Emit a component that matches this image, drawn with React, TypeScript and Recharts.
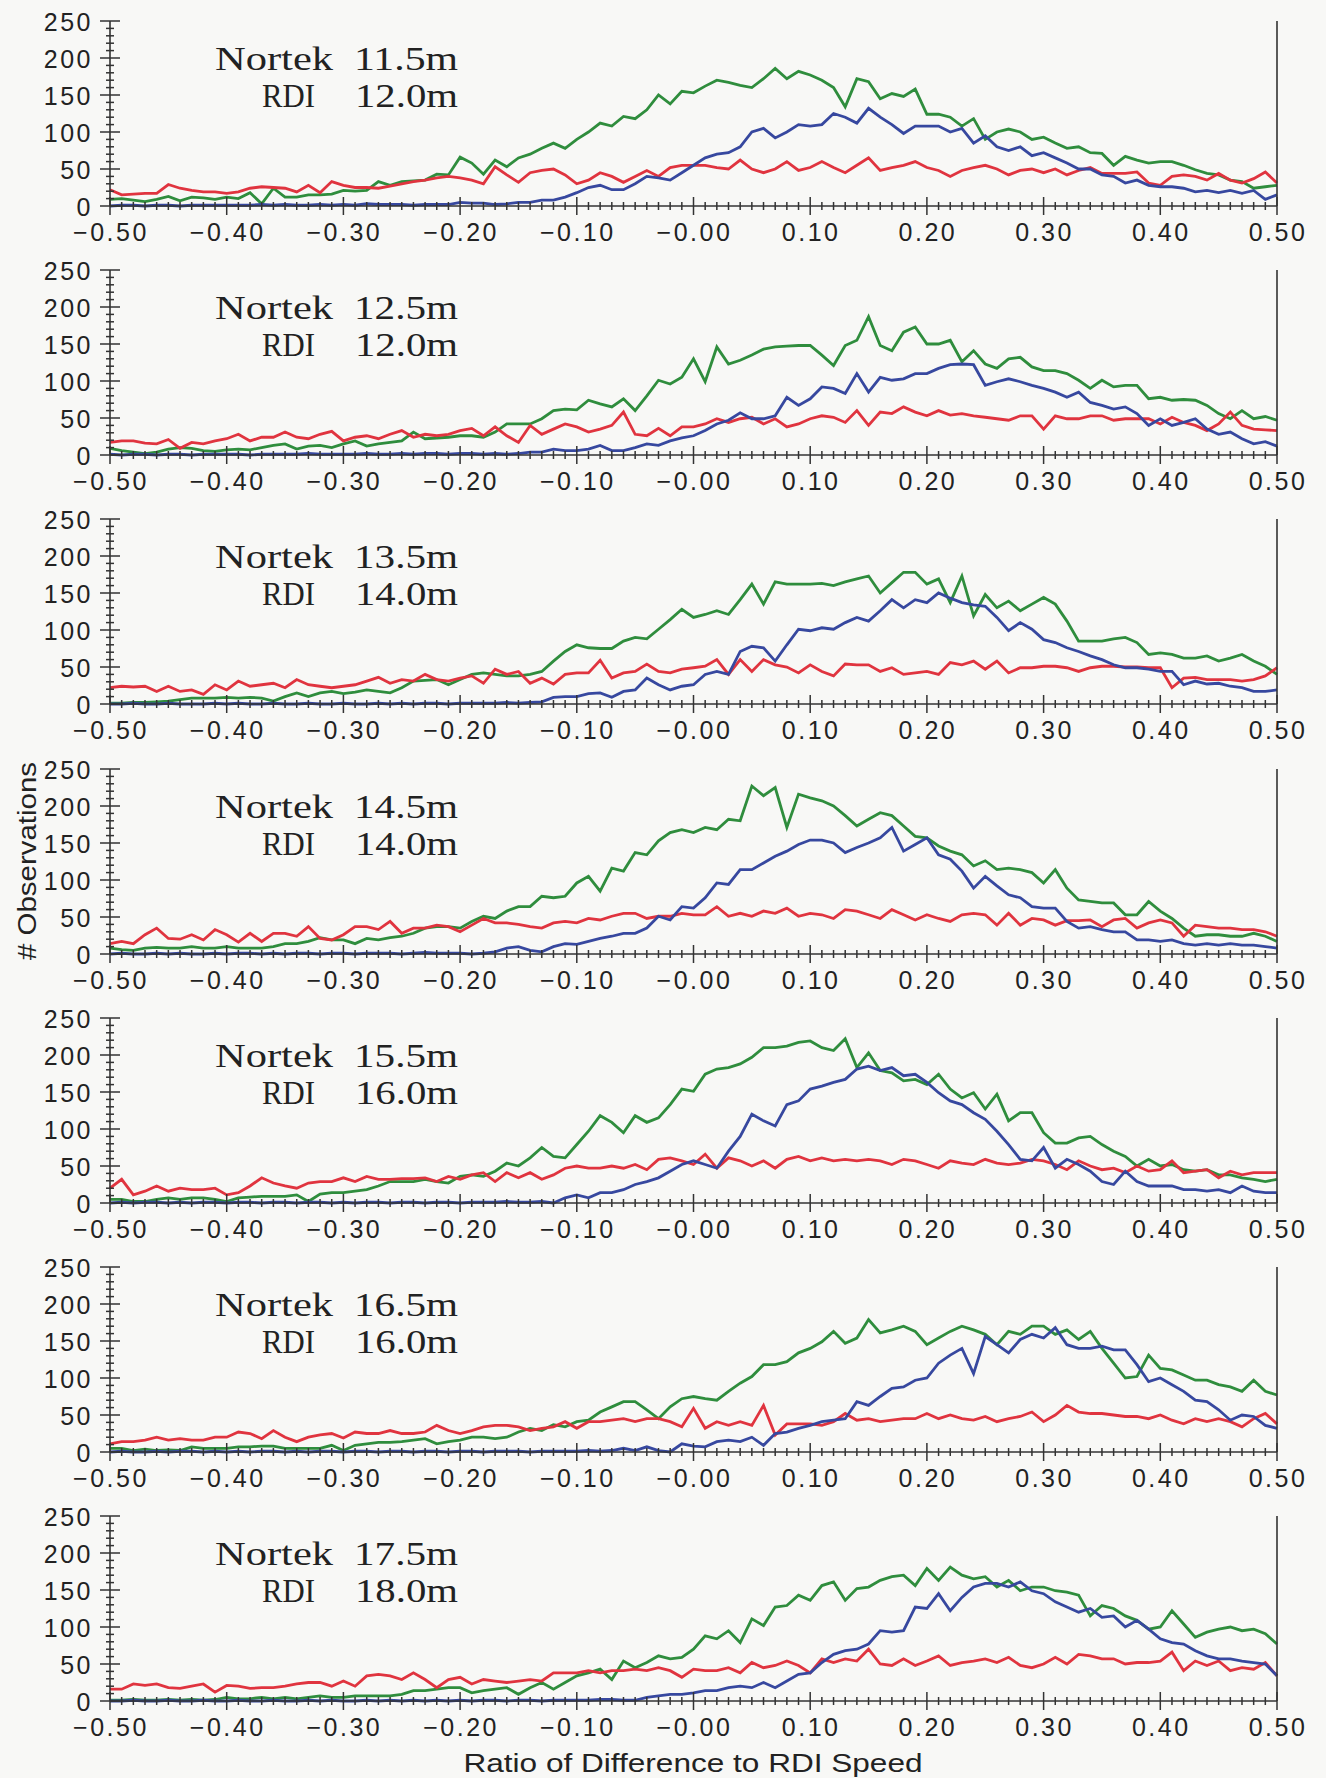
import { LineChart, Line, XAxis, YAxis } from 'recharts';

// bin centres of the histogram, -0.50 .. 0.50 in 0.01 steps
const BINS = Array.from({ length: 101 }, (_, i) => (i - 50) / 100);

const X_LABELS = ['−0.50', '−0.40', '−0.30', '−0.20', '−0.10', '−0.00', '0.10', '0.20', '0.30', '0.40', '0.50'];
const Y_TICKS = [0, 10, 20, 30, 40, 50, 60, 70, 80, 90, 100, 110, 120, 130, 140, 150, 160, 170, 180, 190, 200, 210, 220, 230, 240, 250];

const P1_GREEN = [9, 10, 8, 6, 9, 13, 7, 12, 11, 9, 12, 10, 18, 3, 24, 12, 12, 15, 15, 16, 21, 20, 21, 33, 28, 33, 34, 35, 43, 42, 66, 58, 43, 62, 53, 65, 70, 78, 85, 78, 90, 100, 112, 108, 121, 118, 130, 150, 138, 155, 153, 162, 170, 167, 163, 160, 172, 186, 172, 182, 177, 170, 160, 134, 172, 168, 145, 152, 148, 158, 124, 124, 120, 108, 118, 90, 100, 104, 100, 90, 93, 85, 78, 80, 72, 71, 55, 67, 62, 58, 60, 60, 55, 49, 44, 42, 35, 33, 24, 26, 28];
const P1_RED = [22, 15, 16, 17, 17, 29, 24, 21, 19, 19, 17, 19, 24, 26, 25, 24, 19, 28, 18, 33, 28, 25, 25, 24, 27, 30, 33, 35, 38, 40, 38, 35, 30, 53, 42, 32, 45, 48, 50, 42, 30, 35, 45, 40, 32, 40, 48, 40, 52, 55, 55, 55, 52, 50, 62, 50, 45, 50, 60, 48, 52, 60, 52, 45, 55, 65, 48, 52, 55, 60, 52, 48, 40, 48, 52, 55, 50, 42, 48, 50, 45, 50, 42, 48, 52, 44, 44, 44, 46, 31, 28, 40, 42, 40, 35, 44, 35, 31, 37, 46, 31];
const P1_BLUE = [0, 1, 1, 0, 1, 1, 0, 1, 1, 1, 1, 1, 1, 2, 1, 2, 1, 1, 2, 1, 2, 1, 3, 2, 2, 2, 1, 2, 2, 2, 5, 4, 4, 2, 3, 5, 5, 8, 8, 12, 18, 25, 28, 22, 22, 30, 40, 38, 35, 45, 55, 65, 70, 72, 80, 100, 105, 92, 100, 110, 108, 110, 125, 120, 112, 132, 120, 110, 98, 108, 108, 108, 100, 105, 85, 95, 80, 75, 80, 68, 72, 65, 58, 50, 50, 42, 40, 31, 35, 28, 26, 26, 24, 19, 21, 18, 21, 17, 21, 9, 15];

const P2_GREEN = [9, 6, 4, 2, 4, 8, 10, 9, 6, 5, 7, 8, 7, 10, 13, 15, 8, 12, 13, 10, 15, 19, 12, 15, 17, 19, 31, 22, 23, 24, 26, 26, 24, 31, 42, 42, 42, 49, 60, 62, 61, 74, 69, 65, 76, 60, 80, 101, 96, 105, 130, 99, 146, 123, 128, 135, 143, 146, 147, 148, 148, 135, 121, 148, 155, 187, 148, 141, 166, 173, 150, 150, 155, 126, 141, 123, 117, 130, 132, 119, 114, 114, 110, 101, 90, 101, 92, 94, 94, 76, 78, 74, 75, 74, 67, 56, 49, 60, 49, 52, 47];
const P2_RED = [17, 19, 19, 16, 15, 21, 9, 17, 15, 19, 22, 28, 19, 24, 24, 31, 24, 22, 28, 32, 19, 24, 26, 22, 28, 33, 24, 28, 26, 28, 33, 36, 26, 38, 26, 17, 40, 28, 35, 42, 38, 31, 35, 40, 58, 28, 26, 36, 26, 38, 38, 42, 49, 44, 49, 51, 42, 49, 38, 42, 49, 53, 51, 44, 60, 40, 58, 56, 65, 58, 53, 60, 54, 56, 53, 51, 49, 47, 53, 53, 35, 53, 49, 49, 53, 53, 47, 49, 49, 49, 42, 51, 44, 40, 33, 42, 58, 40, 35, 34, 33];
const P2_BLUE = [1, 0, 1, 1, 0, 1, 1, 0, 1, 1, 1, 1, 0, 1, 1, 1, 1, 2, 1, 1, 1, 1, 2, 1, 1, 2, 1, 2, 2, 1, 2, 2, 1, 2, 1, 2, 4, 4, 8, 6, 6, 8, 13, 6, 6, 10, 15, 13, 19, 23, 26, 33, 42, 47, 57, 49, 49, 53, 78, 67, 76, 92, 90, 83, 110, 85, 105, 101, 103, 110, 110, 117, 122, 123, 122, 94, 99, 103, 99, 94, 90, 85, 78, 85, 71, 67, 62, 65, 56, 40, 49, 40, 44, 49, 35, 28, 31, 22, 15, 18, 12];

const P3_GREEN = [1, 1, 2, 2, 3, 4, 6, 8, 8, 8, 9, 8, 9, 8, 4, 10, 15, 10, 15, 17, 14, 16, 19, 17, 15, 22, 31, 32, 33, 26, 33, 40, 42, 40, 38, 38, 40, 44, 58, 71, 80, 76, 75, 75, 85, 90, 88, 101, 114, 128, 117, 121, 126, 121, 141, 162, 135, 165, 162, 162, 162, 163, 160, 165, 169, 173, 150, 164, 178, 178, 162, 169, 137, 173, 119, 148, 130, 139, 126, 135, 144, 135, 112, 85, 85, 85, 88, 90, 83, 67, 69, 67, 62, 62, 65, 58, 62, 67, 58, 51, 40];
const P3_RED = [22, 24, 23, 24, 17, 24, 17, 19, 13, 26, 19, 31, 24, 26, 28, 22, 33, 26, 24, 22, 24, 26, 31, 36, 28, 33, 31, 40, 33, 31, 35, 38, 28, 47, 40, 44, 28, 35, 27, 40, 42, 42, 59, 35, 42, 44, 54, 44, 42, 47, 49, 51, 60, 40, 60, 44, 60, 53, 50, 42, 53, 44, 38, 54, 53, 53, 44, 49, 40, 42, 44, 40, 56, 53, 58, 47, 58, 42, 49, 49, 51, 51, 49, 44, 49, 51, 51, 50, 50, 49, 49, 22, 35, 36, 33, 33, 33, 31, 33, 38, 49];
const P3_BLUE = [0, 0, 1, 0, 0, 1, 0, 0, 0, 1, 0, 1, 0, 0, 1, 0, 0, 1, 0, 0, 1, 0, 0, 1, 0, 1, 0, 1, 1, 0, 1, 1, 1, 1, 2, 1, 2, 3, 9, 10, 10, 14, 15, 9, 17, 19, 35, 26, 19, 24, 26, 40, 44, 40, 71, 78, 76, 58, 80, 101, 99, 103, 101, 110, 117, 112, 126, 141, 130, 141, 137, 150, 143, 137, 134, 132, 117, 99, 110, 101, 87, 83, 76, 71, 65, 60, 53, 49, 49, 47, 44, 44, 26, 31, 27, 28, 24, 22, 17, 17, 19];

const P4_GREEN = [8, 6, 5, 8, 9, 8, 8, 10, 8, 8, 10, 8, 8, 8, 10, 14, 14, 17, 22, 19, 19, 14, 21, 19, 22, 24, 28, 35, 37, 37, 35, 44, 51, 48, 58, 64, 64, 78, 76, 78, 96, 105, 85, 116, 112, 137, 134, 153, 164, 168, 164, 171, 168, 182, 180, 227, 214, 225, 171, 216, 211, 207, 200, 187, 173, 182, 191, 187, 173, 159, 157, 146, 139, 134, 119, 126, 114, 116, 114, 110, 96, 114, 89, 73, 71, 69, 69, 53, 53, 71, 58, 48, 35, 24, 26, 26, 24, 24, 28, 24, 17];
const P4_RED = [14, 17, 14, 26, 35, 21, 20, 26, 19, 33, 26, 16, 28, 17, 28, 28, 24, 37, 21, 19, 26, 37, 37, 33, 44, 28, 35, 35, 39, 37, 30, 39, 48, 42, 42, 40, 37, 35, 42, 44, 42, 48, 46, 51, 55, 55, 48, 51, 51, 55, 53, 53, 64, 51, 55, 51, 58, 55, 62, 51, 55, 53, 48, 60, 58, 53, 48, 60, 53, 46, 53, 48, 44, 53, 55, 53, 39, 55, 39, 48, 46, 39, 45, 45, 46, 37, 46, 48, 35, 42, 46, 42, 24, 39, 37, 35, 35, 33, 33, 30, 24];
const P4_BLUE = [0, 1, 0, 0, 1, 0, 1, 0, 0, 1, 0, 1, 1, 0, 1, 0, 1, 1, 0, 1, 1, 0, 1, 1, 1, 0, 1, 2, 1, 1, 1, 0, 1, 3, 8, 10, 5, 3, 10, 14, 13, 17, 21, 24, 28, 28, 35, 51, 46, 64, 62, 76, 96, 94, 114, 114, 123, 132, 139, 148, 154, 154, 150, 137, 144, 150, 157, 171, 139, 148, 157, 134, 128, 112, 89, 105, 92, 80, 76, 64, 62, 62, 44, 35, 37, 33, 30, 30, 19, 19, 17, 19, 14, 12, 14, 12, 14, 12, 12, 10, 8];

const P5_GREEN = [5, 5, 2, 2, 5, 7, 5, 7, 7, 5, 2, 7, 8, 9, 9, 9, 11, 2, 12, 14, 14, 16, 18, 23, 29, 29, 29, 32, 29, 27, 36, 38, 36, 43, 54, 50, 61, 75, 63, 61, 79, 97, 118, 109, 95, 118, 109, 115, 133, 154, 151, 174, 181, 183, 188, 197, 210, 210, 212, 217, 219, 210, 206, 222, 183, 203, 179, 176, 165, 167, 160, 174, 154, 142, 149, 127, 147, 111, 122, 122, 95, 81, 81, 88, 90, 79, 70, 63, 50, 59, 50, 52, 45, 43, 45, 38, 38, 34, 32, 29, 32];
const P5_RED = [20, 32, 11, 16, 23, 16, 20, 18, 18, 20, 11, 14, 23, 34, 27, 23, 20, 27, 29, 29, 34, 29, 36, 32, 32, 33, 33, 34, 29, 36, 32, 38, 41, 29, 41, 34, 41, 32, 38, 47, 50, 47, 47, 50, 47, 52, 45, 59, 61, 57, 52, 66, 47, 61, 57, 50, 57, 47, 59, 63, 57, 61, 57, 59, 57, 59, 57, 52, 59, 57, 52, 47, 57, 54, 52, 59, 54, 52, 54, 59, 57, 52, 45, 57, 50, 45, 47, 41, 50, 43, 45, 57, 41, 43, 45, 34, 43, 38, 41, 41, 41];
const P5_BLUE = [0, 1, 0, 1, 1, 0, 1, 0, 1, 1, 0, 1, 1, 0, 1, 1, 0, 1, 1, 0, 1, 0, 1, 1, 0, 1, 1, 0, 1, 1, 0, 1, 1, 1, 2, 1, 1, 2, 0, 7, 11, 7, 14, 14, 18, 25, 29, 34, 43, 52, 57, 52, 47, 70, 90, 120, 111, 104, 133, 138, 154, 158, 163, 167, 181, 185, 179, 183, 172, 174, 163, 149, 138, 133, 122, 113, 97, 79, 59, 57, 75, 47, 59, 52, 43, 29, 25, 43, 29, 23, 23, 23, 18, 18, 16, 18, 14, 23, 16, 14, 14];

const P6_GREEN = [5, 5, 2, 4, 2, 3, 2, 7, 5, 5, 5, 7, 7, 8, 8, 5, 5, 5, 5, 9, 2, 9, 11, 13, 13, 14, 16, 18, 11, 14, 16, 20, 20, 18, 20, 27, 32, 29, 37, 34, 41, 43, 54, 61, 68, 68, 57, 45, 61, 72, 75, 72, 70, 82, 93, 102, 118, 118, 122, 134, 140, 149, 163, 147, 154, 179, 161, 165, 170, 163, 145, 154, 163, 170, 165, 159, 145, 163, 159, 170, 170, 159, 165, 152, 163, 140, 120, 100, 102, 131, 113, 111, 104, 97, 97, 91, 88, 82, 97, 82, 77];
const P6_RED = [11, 14, 14, 16, 20, 16, 18, 16, 16, 20, 20, 27, 25, 18, 29, 20, 14, 20, 23, 25, 19, 27, 25, 25, 29, 25, 25, 27, 36, 29, 25, 29, 34, 36, 36, 34, 29, 32, 34, 41, 32, 41, 41, 43, 45, 41, 45, 45, 41, 34, 59, 32, 41, 36, 41, 36, 63, 23, 38, 38, 38, 36, 41, 52, 43, 45, 41, 43, 45, 45, 52, 45, 50, 45, 43, 48, 41, 45, 48, 54, 41, 50, 63, 54, 52, 52, 50, 48, 48, 45, 50, 43, 38, 45, 41, 45, 41, 34, 45, 52, 38];
const P6_BLUE = [0, 1, 0, 0, 1, 0, 1, 1, 0, 1, 0, 1, 0, 1, 1, 0, 1, 0, 1, 1, 0, 1, 1, 0, 1, 1, 0, 1, 1, 0, 1, 1, 0, 1, 1, 1, 0, 1, 1, 1, 1, 2, 1, 2, 5, 2, 7, 2, 0, 11, 8, 7, 14, 16, 14, 20, 9, 25, 27, 32, 36, 41, 43, 45, 68, 63, 75, 86, 88, 97, 100, 120, 131, 140, 106, 156, 145, 134, 152, 159, 154, 168, 145, 140, 140, 143, 138, 138, 118, 95, 100, 91, 82, 70, 68, 57, 43, 50, 48, 36, 32];

const P7_GREEN = [1, 1, 2, 1, 1, 2, 1, 2, 1, 2, 5, 3, 3, 5, 3, 5, 3, 5, 7, 5, 5, 7, 7, 7, 7, 9, 14, 14, 16, 18, 18, 11, 14, 16, 18, 9, 18, 25, 16, 25, 34, 38, 43, 29, 54, 45, 52, 61, 57, 59, 70, 88, 84, 95, 79, 111, 102, 127, 129, 143, 136, 156, 161, 136, 152, 154, 163, 168, 170, 156, 179, 163, 181, 170, 165, 168, 154, 163, 149, 154, 154, 149, 147, 143, 115, 129, 125, 115, 109, 97, 100, 122, 104, 86, 93, 97, 100, 95, 97, 91, 77];
const P7_RED = [16, 16, 23, 21, 23, 18, 17, 20, 23, 12, 21, 20, 17, 18, 18, 20, 23, 25, 25, 20, 27, 20, 34, 36, 34, 29, 38, 29, 18, 29, 32, 23, 29, 27, 25, 27, 29, 27, 38, 38, 38, 41, 38, 41, 41, 43, 41, 45, 41, 32, 43, 41, 41, 45, 38, 52, 45, 48, 54, 48, 38, 57, 52, 57, 54, 70, 50, 48, 57, 48, 54, 61, 48, 52, 54, 57, 52, 59, 48, 45, 50, 59, 50, 63, 61, 57, 57, 50, 52, 52, 54, 66, 41, 54, 48, 54, 41, 45, 43, 52, 34];
const P7_BLUE = [0, 0, 1, 0, 0, 1, 0, 0, 1, 0, 0, 1, 0, 0, 1, 0, 0, 1, 0, 1, 0, 0, 1, 0, 1, 0, 1, 0, 1, 0, 1, 0, 1, 1, 0, 1, 1, 0, 1, 1, 1, 1, 2, 2, 1, 1, 5, 7, 9, 9, 11, 14, 14, 18, 20, 18, 25, 18, 27, 36, 38, 52, 63, 68, 70, 77, 95, 93, 95, 127, 125, 145, 122, 140, 154, 159, 159, 154, 161, 149, 145, 134, 127, 120, 125, 113, 115, 100, 109, 97, 84, 79, 77, 68, 61, 57, 57, 54, 52, 50, 34];

const NORTEK_DEPTHS = ['11.5m', '12.5m', '13.5m', '14.5m', '15.5m', '16.5m', '17.5m'];
const RDI_DEPTHS = ['12.0m', '12.0m', '14.0m', '14.0m', '16.0m', '16.0m', '18.0m'];
const GREEN_SERIES = [P1_GREEN, P2_GREEN, P3_GREEN, P4_GREEN, P5_GREEN, P6_GREEN, P7_GREEN];
const RED_SERIES = [P1_RED, P2_RED, P3_RED, P4_RED, P5_RED, P6_RED, P7_RED];
const BLUE_SERIES = [P1_BLUE, P2_BLUE, P3_BLUE, P4_BLUE, P5_BLUE, P6_BLUE, P7_BLUE];

const AXIS = '#333';
const TEXT = '#222';
const GREEN = '#2f8d3d';
const RED = '#e0343f';
const BLUE = '#37489f';
const PANEL_STEP = 249.2;

const tickFont = { fontFamily: '"Liberation Sans", Arial, sans-serif', fontSize: 25, letterSpacing: 2.5 };

const XTick = (props: any) => {
  const { x, y, payload } = props;
  const v = payload.value;
  const tenth = Math.round(v * 10);
  const major = Math.abs(v * 10 - tenth) < 1e-6;
  const h = major ? 9 : 4;
  return (
    <g>
      <line x1={x} x2={x} y1={y - h} y2={y + h} stroke={AXIS} strokeWidth={1.5} />
      {major && (
        <text x={x + 1} y={y + 35} textAnchor="middle" fill={TEXT} style={tickFont}>
          {X_LABELS[tenth + 5]}
        </text>
      )}
    </g>
  );
};

const YTick = (props: any) => {
  const { x, y, payload, showLabel } = props;
  const v = payload.value;
  const major = v % 50 === 0;
  const h = major ? 10 : 4;
  return (
    <g>
      <line x1={x - h} x2={x + h} y1={y} y2={y} stroke={AXIS} strokeWidth={1.5} />
      {major && showLabel && (
        <text x={x - 17} y={y + 10} textAnchor="end" fill={TEXT} style={tickFont}>
          {v}
        </text>
      )}
    </g>
  );
};

const Panel = ({ k }: { k: number }) => {
  const rows = BINS.map((x, i) => ({
    x,
    g: GREEN_SERIES[k][i],
    r: RED_SERIES[k][i],
    b: BLUE_SERIES[k][i],
  }));
  return (
    <div style={{ position: 'absolute', left: 0, top: Math.round(k * PANEL_STEP) }}>
      <LineChart width={1326} height={249} data={rows} margin={{ top: 21, right: 39, bottom: 13, left: 50 }}>
        <XAxis
          dataKey="x"
          type="number"
          domain={[-0.5, 0.5]}
          ticks={BINS}
          interval={0}
          height={30}
          tickSize={0}
          tickMargin={0}
          tickLine={false}
          axisLine={{ stroke: AXIS, strokeWidth: 1.6 }}
          tick={(p: any) => <XTick {...p} />}
        />
        <YAxis
          yAxisId="l"
          domain={[0, 250]}
          ticks={Y_TICKS}
          interval={0}
          width={60}
          tickSize={0}
          tickMargin={0}
          tickLine={false}
          axisLine={{ stroke: AXIS, strokeWidth: 1.6 }}
          tick={(p: any) => <YTick {...p} showLabel />}
        />
        <YAxis
          yAxisId="r"
          orientation="right"
          domain={[0, 250]}
          ticks={Y_TICKS}
          interval={0}
          width={10}
          tickSize={0}
          tickMargin={0}
          tickLine={false}
          axisLine={{ stroke: AXIS, strokeWidth: 1.6 }}
          tick={(p: any) => <YTick {...p} showLabel={false} />}
        />
        <Line yAxisId="l" type="linear" dataKey="g" stroke={GREEN} strokeWidth={2.8} dot={false} isAnimationActive={false} />
        <Line yAxisId="l" type="linear" dataKey="r" stroke={RED} strokeWidth={2.8} dot={false} isAnimationActive={false} />
        <Line yAxisId="l" type="linear" dataKey="b" stroke={BLUE} strokeWidth={2.8} dot={false} isAnimationActive={false} />
      </LineChart>
    </div>
  );
};

const serif = { fontFamily: '"Liberation Serif", "Times New Roman", serif', fontSize: 34 };
const sans = { fontFamily: '"Liberation Sans", Arial, sans-serif', fontSize: 26 };

export default function App() {
  return (
    <div style={{ position: 'absolute', left: 0, top: 0, width: 1326, height: 1778, background: '#f8f8f6', overflow: 'hidden' }}>
      {NORTEK_DEPTHS.map((_, k) => (
        <Panel key={k} k={k} />
      ))}
      <svg width={1326} height={1778} style={{ position: 'absolute', left: 0, top: 0, pointerEvents: 'none' }}>
        {NORTEK_DEPTHS.map((d, k) => {
          const off = k * PANEL_STEP;
          return (
            <g key={k} fill={TEXT} style={serif}>
              <text x={333} y={70 + off} textAnchor="end" textLength={118} lengthAdjust="spacingAndGlyphs">Nortek</text>
              <text x={354} y={70 + off} textLength={104} lengthAdjust="spacingAndGlyphs">{d}</text>
              <text x={315} y={107 + off} textAnchor="end" textLength={53} lengthAdjust="spacingAndGlyphs">RDI</text>
              <text x={355} y={107 + off} textLength={103} lengthAdjust="spacingAndGlyphs">{RDI_DEPTHS[k]}</text>
            </g>
          );
        })}
        <text
          x={36}
          y={861}
          transform="rotate(-90, 36, 861)"
          textAnchor="middle"
          fill={TEXT}
          style={sans}
          textLength={198}
          lengthAdjust="spacingAndGlyphs"
        >
          # Observations
        </text>
        <text x={693} y={1772} textAnchor="middle" fill={TEXT} style={sans} textLength={459} lengthAdjust="spacingAndGlyphs">
          Ratio of Difference to RDI Speed
        </text>
      </svg>
    </div>
  );
}
